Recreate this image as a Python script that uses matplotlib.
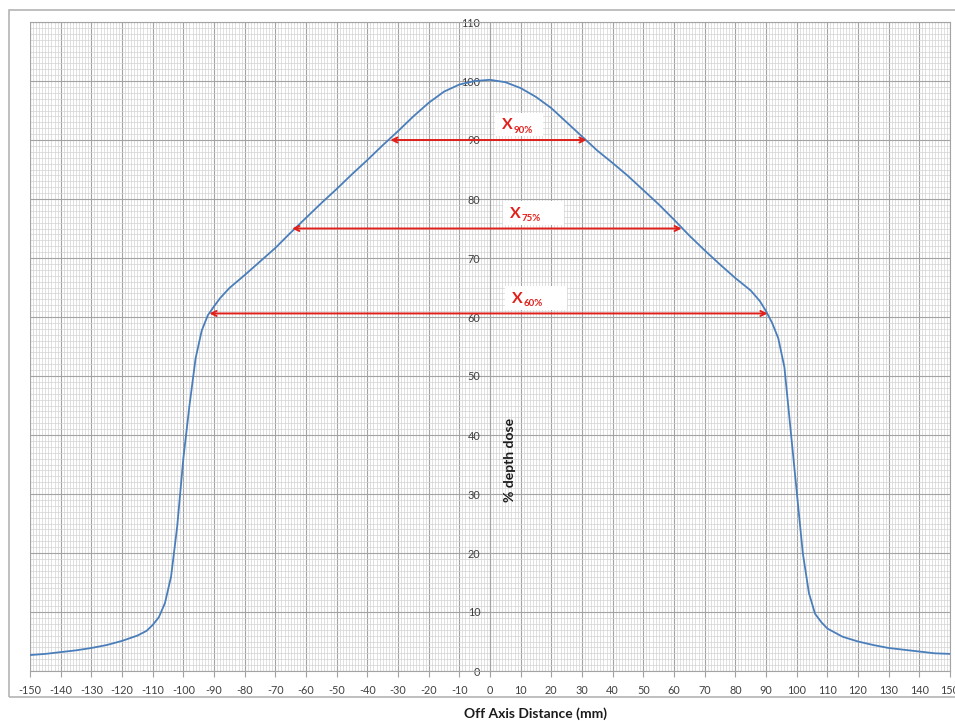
import matplotlib
matplotlib.use('Agg')
import matplotlib.pyplot as plt
from matplotlib.patches import Rectangle
from matplotlib.ticker import MultipleLocator

plt.rcParams['font.family'] = ['Lato', 'DejaVu Sans']
plt.rcParams['axes.unicode_minus'] = False

# Beam profile (off-axis distance in mm, % depth dose)
distance = [-150, -145, -140, -135, -130, -125, -120, -115, -112, -110,
            -108, -106, -104, -102, -100, -98, -96, -94, -92, -90,
            -88, -85, -80, -75, -70, -65, -60, -55, -50, -45,
            -40, -35, -30, -25, -20, -15, -10, -5, 0, 5,
            10, 15, 20, 25, 30, 35, 40, 45, 50, 55,
            60, 65, 70, 75, 80, 85, 88, 90, 92, 94,
            96, 98, 100, 102, 104, 106, 108, 110, 115, 120,
            125, 130, 135, 140, 145, 150]
dose = [2.7, 2.9, 3.2, 3.5, 3.9, 4.4, 5.1, 6.0, 6.8, 7.8,
        9.1, 11.5, 16.0, 24.5, 36.0, 45.0, 53.0, 57.7, 60.3, 61.8,
        63.2, 64.9, 67.1, 69.4, 71.7, 74.3, 76.8, 79.3, 81.7, 84.2,
        86.6, 89.1, 91.5, 94.0, 96.3, 98.2, 99.4, 100.0, 100.2, 99.8,
        98.8, 97.3, 95.4, 93.0, 90.6, 88.2, 86.1, 83.9, 81.5, 79.1,
        76.5, 73.8, 71.3, 68.9, 66.6, 64.5, 62.7, 61.0, 59.0, 56.4,
        51.5, 41.0, 30.5, 20.0, 13.2, 9.7, 8.3, 7.2, 5.8, 5.0,
        4.4, 3.9, 3.6, 3.3, 3.0, 2.9]

# Width markers (dose level, left and right crossing in mm)
marker_levels = [90, 75, 60.6]
marker_left = [-32.5, -64.5, -91.5]
marker_right = [31.5, 62.5, 90.5]
marker_names = ['90%', '75%', '60%']
box_x = [1.6, 4.2, 4.9]
box_w = [15.7, 20.0, 20.3]

x_ticks = list(range(-150, 151, 10))
y_ticks = list(range(0, 111, 10))

fig = plt.figure(figsize=(9.55, 7.21), dpi=100)
ax = fig.add_axes([30 / 955, 1 - 671 / 721, 920 / 955, 649 / 721])

# outer chart frame like the spreadsheet export
fig.patches.append(Rectangle((9 / 955, 1 - 697 / 721), 1.0, 687 / 721,
                             transform=fig.transFigure, fill=False,
                             edgecolor='#b4b4b4', linewidth=1.2))

ax.plot(distance, dose, color='#4a7ebb', linewidth=1.3, zorder=3)

red = '#e0201b'
for lvl, xl, xr, name, bx, bw in zip(marker_levels, marker_left, marker_right,
                                     marker_names, box_x, box_w):
    ax.annotate('', xy=(xr, lvl), xytext=(xl, lvl),
                arrowprops=dict(arrowstyle='<->', color=red, lw=1.4,
                                mutation_scale=9, shrinkA=0, shrinkB=0),
                zorder=4)
    ax.add_patch(Rectangle((bx, lvl + 0.6), bw, 4.0, facecolor='white',
                           edgecolor='none', zorder=4))
    tx = bx + 2.3
    ax.text(tx, lvl + 2.5, 'X', color=red, fontsize=11.5, fontweight='bold',
            ha='left', va='center', zorder=5)
    ax.annotate(name, xy=(tx, lvl + 2.5), xytext=(8.5, -3.5),
                textcoords='offset points', color=red, fontsize=7,
                fontweight='bold', ha='left', va='center', zorder=5)

ax.set_xlim(-150, 150)
ax.set_ylim(0, 110)
ax.set_xticks(x_ticks)
ax.set_yticks(y_ticks)
ax.xaxis.set_minor_locator(MultipleLocator(1))
ax.yaxis.set_minor_locator(MultipleLocator(1))

ax.set_axisbelow(True)
ax.grid(which='minor', color='#d3d3d3', linewidth=0.5)
ax.grid(which='major', color='#a3a3a3', linewidth=0.8)

ax.spines['left'].set_position(('data', 0))
for s in ax.spines.values():
    s.set_color('#a3a3a3')
    s.set_linewidth(0.8)
ax.axvline(-150, color='#a3a3a3', linewidth=0.8, zorder=1)

ax.tick_params(axis='x', which='major', length=4, width=0.8, color='#a3a3a3',
               labelsize=7.8, labelcolor='#404040', pad=6)
ax.tick_params(axis='y', which='major', length=0, labelsize=7.8,
               labelcolor='#404040', pad=7)
ax.tick_params(which='minor', length=0)

fig.text(536 / 955, 1 - 714 / 721, 'Off Axis Distance (mm)', fontsize=10,
         fontweight='bold', ha='center', va='center', color='#1a1a1a')
fig.text(510 / 955, 1 - 460 / 721, '% depth dose', fontsize=10,
         fontweight='bold', rotation=90, ha='center', va='center',
         color='#1a1a1a')

fig.savefig('out.png', dpi=100)
